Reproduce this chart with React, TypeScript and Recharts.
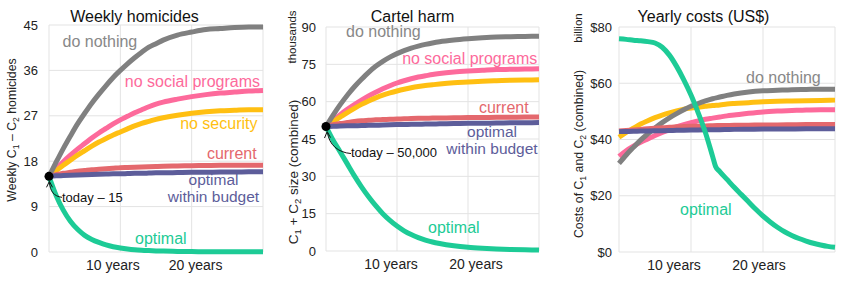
import { LineChart, Line, XAxis, YAxis, CartesianGrid, ReferenceDot } from "recharts";

const FONT = '"Liberation Sans", Arial, Helvetica, sans-serif';

// x values (years from today) shared by most series
const years = [0, 1, 2, 3, 4, 5, 6, 7, 8, 9, 10, 11, 12, 13, 14, 15, 16, 18, 20, 22, 24, 26, 28, 30];
const xTicks = [0, 10, 20];

// Weekly homicides
const homTicks = [0, 9, 18, 27, 36, 45];
const homDoNothing = [15, 17.8, 20.5, 23, 25.4, 27.5, 29.5, 31.3, 33, 34.6, 36, 37.3, 38.5, 39.6, 40.6, 41.3, 42, 43, 43.6, 44.1, 44.3, 44.5, 44.6, 44.6];
const homNoSocial = [15, 16.5, 17.9, 19.2, 20.4, 21.5, 22.6, 23.6, 24.5, 25.4, 26.2, 26.9, 27.6, 28.2, 28.8, 29.3, 29.7, 30.3, 30.8, 31.2, 31.5, 31.7, 31.9, 32];
const homNoSecurity = [15, 16.1, 17.2, 18.2, 19.2, 20.1, 21, 21.8, 22.5, 23.2, 23.8, 24.4, 25, 25.5, 25.9, 26.3, 26.6, 27.1, 27.5, 27.8, 28, 28.1, 28.2, 28.2];
const homCurrent = [15, 15.3, 15.6, 15.8, 16, 16.15, 16.3, 16.4, 16.5, 16.6, 16.7, 16.75, 16.8, 16.85, 16.9, 16.95, 17, 17.05, 17.1, 17.15, 17.2, 17.2, 17.2, 17.2];
const homBudget = [15, 15.1, 15.15, 15.2, 15.25, 15.3, 15.35, 15.4, 15.45, 15.5, 15.5, 15.55, 15.6, 15.6, 15.65, 15.7, 15.7, 15.75, 15.8, 15.8, 15.85, 15.85, 15.9, 15.9];
const homOptimal = [15, 11.2, 8.3, 6.1, 4.5, 3.3, 2.5, 1.9, 1.4, 1.05, 0.8, 0.6, 0.45, 0.35, 0.28, 0.22, 0.18, 0.12, 0.08, 0.06, 0.05, 0.04, 0.03, 0.03];

// Cartel size, thousands
const harmTicks = [0, 15, 30, 45, 60, 75, 90];
const harmDoNothing = [50, 54.6, 58.8, 62.6, 66, 69, 71.8, 74.2, 76.2, 77.9, 79.3, 80.5, 81.5, 82.3, 83, 83.6, 84.1, 84.8, 85.3, 85.7, 86, 86.1, 86.2, 86.3];
const harmNoSocial = [50, 52.5, 54.8, 56.9, 58.8, 60.6, 62.3, 63.8, 65.2, 66.4, 67.5, 68.4, 69.2, 69.9, 70.4, 70.9, 71.3, 71.9, 72.3, 72.6, 72.9, 73, 73.1, 73.2];
const harmNoSecurity = [50, 52, 53.8, 55.6, 57.3, 58.9, 60.3, 61.5, 62.6, 63.5, 64.3, 65, 65.6, 66.1, 66.5, 66.8, 67.1, 67.6, 67.9, 68.2, 68.4, 68.6, 68.7, 68.8];
const harmCurrent = [50, 50.7, 51.2, 51.6, 52, 52.3, 52.5, 52.7, 52.8, 52.9, 53, 53.1, 53.2, 53.3, 53.35, 53.4, 53.45, 53.5, 53.6, 53.65, 53.7, 53.75, 53.8, 53.8];
const harmBudget = [50, 50.1, 50.2, 50.3, 50.35, 50.4, 50.5, 50.55, 50.6, 50.7, 50.8, 50.85, 50.9, 50.95, 51, 51.05, 51.1, 51.2, 51.3, 51.35, 51.4, 51.5, 51.55, 51.6];
const harmOptimal = [50, 44.5, 39.8, 35, 30.2, 25.8, 21.8, 18.2, 15, 12.3, 10, 8.1, 6.6, 5.4, 4.4, 3.6, 3, 2.1, 1.5, 1.1, 0.8, 0.6, 0.5, 0.4];

// Yearly costs, billion US$
const costTicks = [0, 20, 40, 60, 80];
const costDoNothing = [31.5, 34.5, 37.2, 39.8, 42, 44.1, 46, 47.7, 49.2, 50.6, 51.8, 52.8, 53.7, 54.5, 55.1, 55.7, 56.2, 56.9, 57.3, 57.5, 57.7, 57.8, 57.9, 57.9];
const costNoSocial = [34, 36, 37.6, 39, 40.2, 41.4, 42.5, 43.5, 44.5, 45.3, 46, 46.6, 47.2, 47.6, 48, 48.4, 48.7, 49.3, 49.8, 50.1, 50.3, 50.5, 50.6, 50.6];
const costNoSecurity = [40.8, 42.5, 44, 45.5, 46.7, 47.8, 48.7, 49.5, 50.2, 50.8, 51.2, 51.5, 51.8, 52.1, 52.3, 52.6, 52.8, 53.1, 53.4, 53.6, 53.7, 53.8, 53.9, 54];
const costCurrent = [43, 43.2, 43.4, 43.6, 43.8, 44, 44.2, 44.35, 44.5, 44.6, 44.7, 44.75, 44.8, 44.9, 44.95, 45, 45.05, 45.1, 45.2, 45.2, 45.25, 45.3, 45.3, 45.3];
const costBudget = [42.8, 42.85, 42.9, 43, 43.05, 43.1, 43.15, 43.2, 43.25, 43.3, 43.35, 43.4, 43.45, 43.5, 43.5, 43.55, 43.6, 43.65, 43.7, 43.72, 43.75, 43.78, 43.8, 43.8];
const costOptimalYears = [0, 1, 2, 3, 4, 5, 6, 7, 8, 9, 10, 11, 12, 13, 13.4, 14, 15, 16, 17, 18, 19, 20, 21, 22, 23, 24, 25, 26, 27, 28, 29, 30];
const costOptimal = [75.8, 75.6, 75.3, 75.1, 74.8, 74.3, 72.8, 70, 66, 61.2, 55.8, 49.5, 42.5, 34, 30.5, 28.6, 25.8, 23, 20.4, 17.8, 15.2, 12.8, 10.7, 8.8, 7.2, 5.9, 4.8, 3.9, 3.1, 2.5, 2, 1.7];

const C = {
  nothing: "#808080",
  social: "#fd6a9b",
  security: "#ffbf12",
  current: "#e4686d",
  budget: "#5d5d9a",
  optimal: "#1dcb96",
};

const rows = (xs: number[], ys: number[]) => xs.map((x, i) => ({ year: x, value: ys[i] }));

type Series = { name: string; xs: number[]; ys: number[]; color: string };

const startMarker = (label: string, textDx: number, textDy: number, path: string, head: string) => (props: any) => {
  const { cx, cy } = props;
  if (cx == null || cy == null) return <g />;
  const p = (s: string) => s.replace(/\{(-?[\d.]+),(-?[\d.]+)\}/g, (_m, a, b) => `${cx + Number(a)},${cy + Number(b)}`);
  return (
    <g>
      <path d={p(path)} fill="none" stroke="#111" strokeWidth={1} />
      <path d={p(head)} fill="none" stroke="#111" strokeWidth={1} />
      <circle cx={cx} cy={cy} r={4.5} fill="#000" />
      <text x={cx + textDx} y={cy + textDy} fontSize={13} fill="#111" fontFamily={FONT}>{label}</text>
    </g>
  );
};

// year labels sit a little off their grid lines in the original
const yearTick = (shift: Record<number, number>) => (props: any) => {
  const { x, y, payload } = props;
  if (!payload || payload.value === 0) return <g />;
  return (
    <text x={x + (shift[payload.value] || 0)} y={y} dy="0.71em" textAnchor="middle" fontSize={14} fill="#222" fontFamily={FONT}>
      {`${payload.value} years`}
    </text>
  );
};

type PanelProps = {
  left: number;
  width: number;
  margin: { top: number; right: number; left: number; bottom: number };
  yWidth: number;
  xHeight: number;
  yTicks: number[];
  tickMargin: number;
  shift: Record<number, number>;
  fmt?: (v: number) => string;
  series: Series[];
  start?: { y: number; shape: (p: any) => any };
};

const Panel = ({ left, width, margin, yWidth, xHeight, yTicks, tickMargin, shift, fmt, series, start }: PanelProps) => (
  <div style={{ position: "absolute", left, top: 0 }}>
    <LineChart width={width} height={283} margin={margin}>
      <CartesianGrid stroke="#e3e3e3" />
      <XAxis
        dataKey="year"
        type="number"
        domain={[0, 30]}
        ticks={xTicks}
        height={xHeight}
        axisLine={false}
        tickLine={false}
        tick={yearTick(shift)}
      />
      <YAxis
        type="number"
        domain={[yTicks[0], yTicks[yTicks.length - 1]]}
        ticks={yTicks}
        width={yWidth}
        axisLine={false}
        tickLine={false}
        tickMargin={tickMargin}
        tickFormatter={fmt}
        tick={{ fontSize: 13, fill: "#222", fontFamily: FONT }}
      />
      {series.map((s) => (
        <Line
          key={s.name}
          name={s.name}
          data={rows(s.xs, s.ys)}
          dataKey="value"
          type="monotone"
          stroke={s.color}
          strokeWidth={5}
          dot={false}
          activeDot={false}
          isAnimationActive={false}
        />
      ))}
      {start && <ReferenceDot x={0} y={start.y} r={4.5} shape={start.shape} />}
    </LineChart>
  </div>
);

const YLabel = ({ x, y, size, parts }: { x: number; y: number; size: number; parts: [string, string, string, string, string] }) => (
  <text transform={`translate(${x},${y}) rotate(-90)`} textAnchor="middle" fontSize={size} fill="#222">
    {parts[0]}
    <tspan fontSize={size * 0.7} dy={size * 0.25}>{parts[1]}</tspan>
    <tspan dy={-size * 0.25}>{parts[2]}</tspan>
    <tspan fontSize={size * 0.7} dy={size * 0.25}>{parts[3]}</tspan>
    <tspan dy={-size * 0.25}>{parts[4]}</tspan>
  </text>
);

const Overlay = () => (
  <svg width={847} height={283} style={{ position: "absolute", left: 0, top: 0, pointerEvents: "none" }} fontFamily={FONT}>
    <text x={134.5} y={22} textAnchor="middle" fontSize={16} fill="#111">Weekly homicides</text>
    <text x={412.5} y={22} textAnchor="middle" fontSize={16} fill="#111">Cartel harm</text>
    <text x={703.5} y={22} textAnchor="middle" fontSize={16} fill="#111">Yearly costs (US$)</text>

    <YLabel x={15.5} y={130} size={12.3} parts={["Weekly C", "1", " – C", "2", " homicides"]} />
    <YLabel x={297.5} y={172} size={13.5} parts={["C", "1", " + C", "2", " size (combined)"]} />
    <text transform="translate(296,37) rotate(-90)" textAnchor="middle" fontSize={11.5} fill="#222">thousands</text>
    <YLabel x={582.5} y={154} size={12.3} parts={["Costs of C", "1", " and C", "2", " (combined)"]} />
    <text transform="translate(582,28) rotate(-90)" textAnchor="middle" fontSize={11.5} fill="#222">billion</text>

    <g fontSize={16}>
      <text x={62.5} y={47} fill="#888">do nothing</text>
      <text x={260} y={86.5} textAnchor="end" fill={C.social}>no social programs</text>
      <text x={257.5} y={129} textAnchor="end" fill={C.security}>no security</text>
      <text x={256.7} y={159} textAnchor="end" fill={C.current}>current</text>
      <text x={135} y={244} fill={C.optimal}>optimal</text>

      <text x={346} y={37.3} fill="#888">do nothing</text>
      <text x={537.3} y={64.3} textAnchor="end" fill={C.social}>no social programs</text>
      <text x={528.7} y={112.7} textAnchor="end" fill={C.current}>current</text>
      <text x={428} y={232.7} fill={C.optimal}>optimal</text>

      <text x={746} y={82.7} fill="#888">do nothing</text>
      <text x={680} y={215} fill={C.optimal}>optimal</text>
    </g>
    <g fontSize={15.5} fill={C.budget} textAnchor="middle">
      <text x={213.5} y={185}>optimal</text>
      <text x={213.5} y={202}>within budget</text>
      <text x={492} y={137}>optimal</text>
      <text x={492} y={154}>within budget</text>
    </g>
  </svg>
);

const mk = (ys: number[][]): Series[] => [
  { name: "no social programs", xs: years, ys: ys[0], color: C.social },
  { name: "no security", xs: years, ys: ys[1], color: C.security },
  { name: "do nothing", xs: years, ys: ys[2], color: C.nothing },
  { name: "current", xs: years, ys: ys[3], color: C.current },
  { name: "optimal within budget", xs: years, ys: ys[4], color: C.budget },
];

export default function App() {
  const homSeries = [
    ...mk([homNoSocial, homNoSecurity, homDoNothing, homCurrent, homBudget]),
    { name: "optimal", xs: years, ys: homOptimal, color: C.optimal },
  ];
  const harmSeries = [
    ...mk([harmNoSocial, harmNoSecurity, harmDoNothing, harmCurrent, harmBudget]),
    { name: "optimal", xs: years, ys: harmOptimal, color: C.optimal },
  ];
  const costSeries = [
    ...mk([costNoSocial, costNoSecurity, costDoNothing, costCurrent, costBudget]),
    { name: "optimal", xs: costOptimalYears, ys: costOptimal, color: C.optimal },
  ];

  return (
    <div style={{ position: "absolute", left: 0, top: 0, width: 847, height: 283, background: "#fff", fontFamily: FONT, overflow: "hidden" }}>
      <Panel
        left={0}
        width={280}
        margin={{ top: 25, right: 17, left: 0, bottom: 0 }}
        yWidth={49}
        xHeight={31}
        yTicks={homTicks}
        tickMargin={5}
        shift={{ 10: -7.5, 20: 4 }}
        series={homSeries}
        start={{
          y: homDoNothing[0],
          shape: startMarker("today – 15", 13, 26, "M{13,21} C{5,20} {1,15} {0.5,6}", "M{-2.5,11} L{0.4,5} L{3.5,11}"),
        }}
      />
      <Panel
        left={285}
        width={262}
        margin={{ top: 27, right: 8, left: 0, bottom: 0 }}
        yWidth={41}
        xHeight={32}
        yTicks={harmTicks}
        tickMargin={4}
        shift={{ 10: -6, 20: 8 }}
        series={harmSeries}
        start={{
          y: harmDoNothing[0],
          shape: startMarker("today – 50,000", 25, 30.7, "M{25,27} C{12,26} {3,18} {1.5,6}", "M{-1.5,11.5} L{1.2,5} L{4.5,11}"),
        }}
      />
      <Panel
        left={570}
        width={277}
        margin={{ top: 27, right: 12, left: 0, bottom: 0 }}
        yWidth={49}
        xHeight={31}
        yTicks={costTicks}
        tickMargin={1}
        shift={{ 10: -17, 20: -4 }}
        fmt={(v: number) => `$${v}`}
        series={costSeries}
      />
      <Overlay />
    </div>
  );
}
